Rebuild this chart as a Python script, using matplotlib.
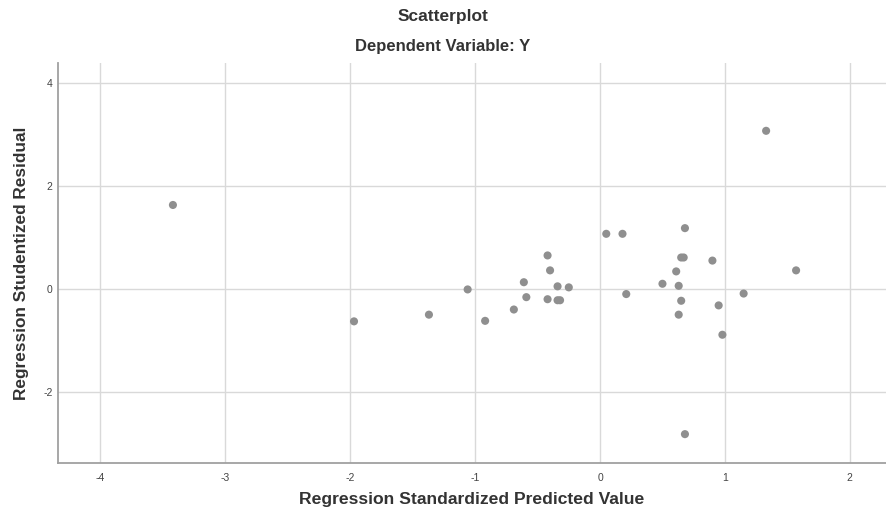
import numpy as np
import matplotlib.pyplot as plt

plt.rcParams['font.family'] = ['Liberation Sans', 'DejaVu Sans']
plt.rcParams['axes.unicode_minus'] = False

# Standardized predicted values (x) and studentized residuals (y)
pred = [-3.42, 1.33, 0.68, -1.97, -1.37, -1.06, -0.92, -0.69, -0.61, -0.59,
        -0.42, -0.40, -0.34, -0.25, -0.42, -0.34, -0.32, 0.05, 0.18, 0.21,
        0.50, 0.68, 0.65, 0.67, 0.61, 0.63, 0.65, 0.63, 0.90, 0.95,
        0.98, 1.15, 1.57]
resid = [1.63, 3.07, -2.82, -0.63, -0.50, -0.01, -0.62, -0.40, 0.13, -0.16,
         0.65, 0.36, 0.05, 0.03, -0.20, -0.22, -0.22, 1.07, 1.07, -0.10,
         0.10, 1.18, 0.61, 0.61, 0.34, 0.06, -0.23, -0.50, 0.55, -0.32,
         -0.89, -0.09, 0.36]

xticks = [-4, -3, -2, -1, 0, 1, 2]
yticks = [-2, 0, 2, 4]

fig = plt.figure(figsize=(8.86, 5.15), dpi=100)
ax = fig.add_axes([0.0655, 0.101, 0.9345, 0.777])

ax.scatter(pred, resid, s=34, color='#8f8f8f', edgecolors='none', zorder=3)

ax.set_xlim(-4.34, 2.29)
ax.set_ylim(-3.38, 4.39)
ax.set_xticks(xticks)
ax.set_yticks(yticks)
ax.grid(True, color='#d9d9d9', linewidth=1.0)
ax.set_axisbelow(True)

for side in ['top', 'right']:
    ax.spines[side].set_visible(False)
for side in ['left', 'bottom']:
    ax.spines[side].set_color('#a0a0a0')
    ax.spines[side].set_linewidth(1.3)

ax.tick_params(length=0, labelsize=7.5, labelcolor='#444444')
ax.tick_params(axis='x', pad=7)
ax.tick_params(axis='y', pad=4)

ax.set_xlabel('Regression Standardized Predicted Value', fontsize=12.6,
              fontweight='bold', color='#333333', labelpad=7)
ax.set_ylabel('Regression Studentized Residual', fontsize=12.4,
              fontweight='bold', color='#333333', labelpad=10)

fig.text(0.5, 0.967, 'Scatterplot', ha='center', va='center',
         fontsize=12.5, fontweight='bold', color='#333333')
fig.text(0.5, 0.910, 'Dependent Variable: Y', ha='center', va='center',
         fontsize=12, fontweight='bold', color='#333333')

fig.savefig('out.png', dpi=100)
